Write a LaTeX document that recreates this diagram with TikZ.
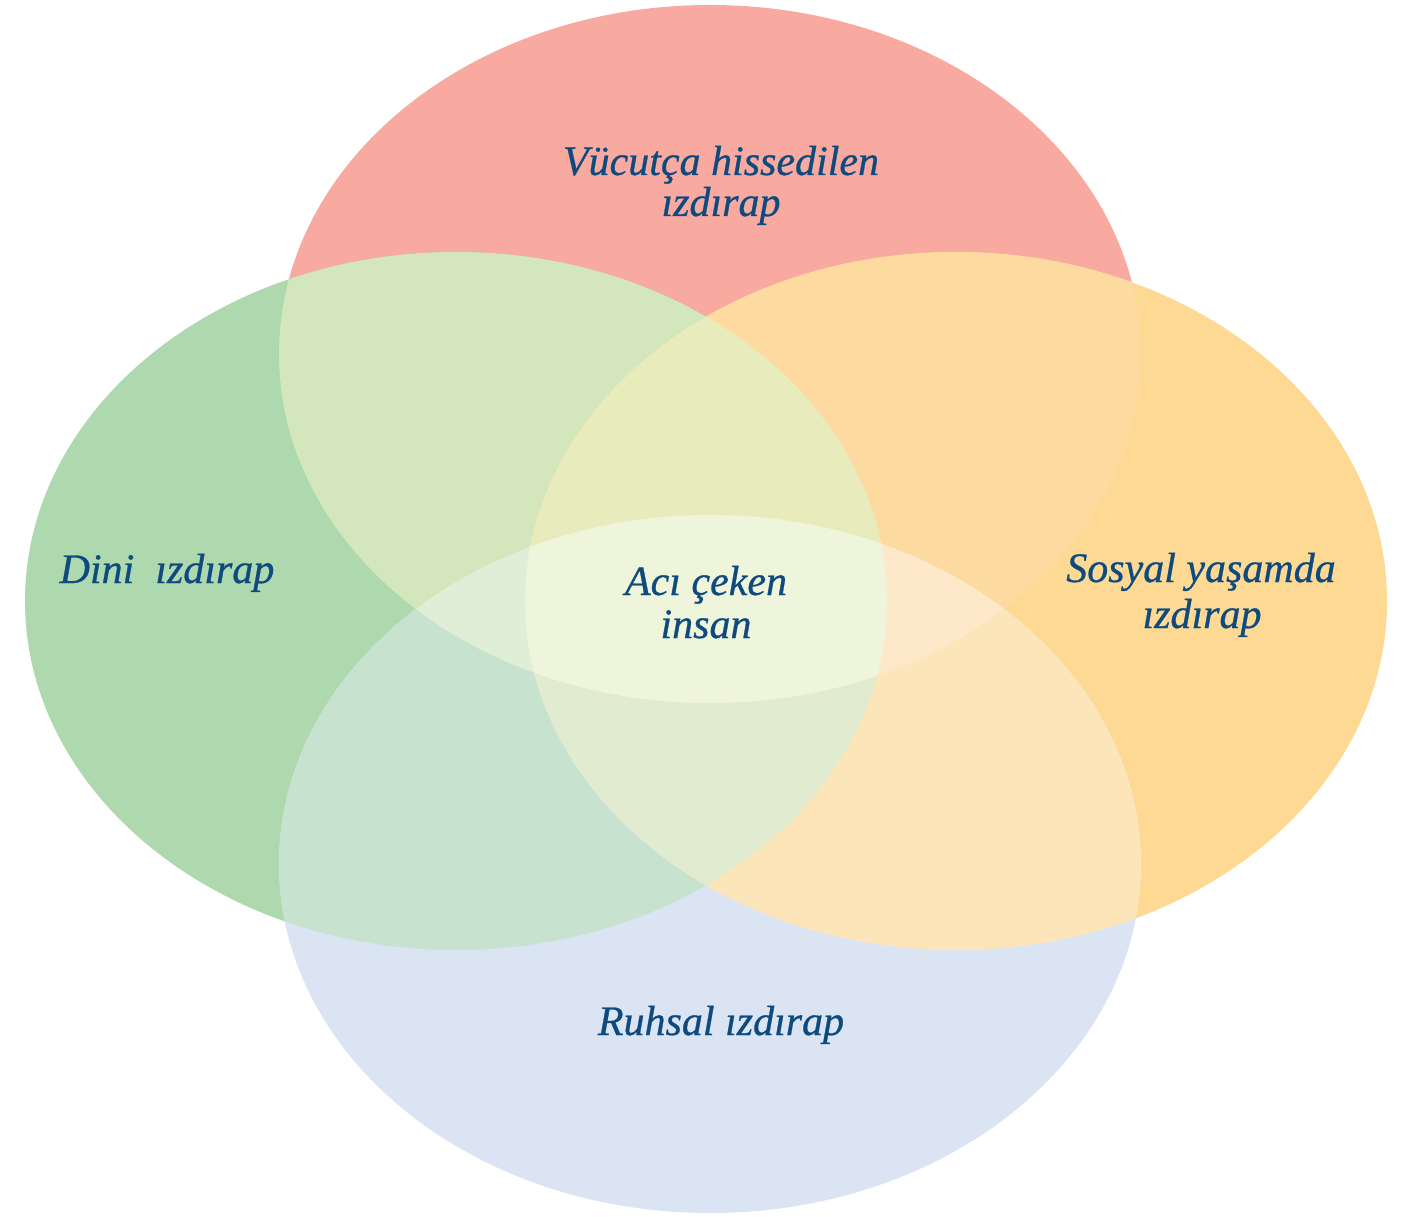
\documentclass[tikz,border=0pt]{standalone}
\usepackage{fontspec}
\setmainfont{Liberation Serif}[ItalicFeatures={FakeBold=0.6}]
\definecolor{cR}{HTML}{F8A9A0}
\definecolor{cG}{HTML}{AED8AE}
\definecolor{cO}{HTML}{FDD994}
\definecolor{cB}{HTML}{DAE4F2}
\definecolor{cRG}{HTML}{D3E6BC}
\definecolor{cRO}{HTML}{FDDBA0}
\definecolor{cGB}{HTML}{C7E3CF}
\definecolor{cOB}{HTML}{FDE5BA}
\definecolor{cRGO}{HTML}{E8ECBC}
\definecolor{cRGB}{HTML}{E0EED8}
\definecolor{cGOB}{HTML}{E0EBD0}
\definecolor{cROB}{HTML}{FDE8C9}
\definecolor{cAll}{HTML}{EFF5DA}
\definecolor{txt}{HTML}{0E4A7E}
\tikzset{
  eR/.style={insert path={(710,354) ellipse [x radius=431pt, y radius=349pt]}},
  eG/.style={insert path={(456,601) ellipse [x radius=431pt, y radius=349pt]}},
  eO/.style={insert path={(956,601) ellipse [x radius=431pt, y radius=349pt]}},
  eB/.style={insert path={(710,864) ellipse [x radius=431pt, y radius=349pt]}},
  lbl/.style={font=\fontsize{42}{46}\selectfont\itshape, text=txt, anchor=base, inner sep=0pt}
}
\begin{document}
\begin{tikzpicture}[x=1pt,y=-1pt]
\useasboundingbox (0,0) rectangle (1411,1217);
\fill[white] (0,0) rectangle (1411,1217);
% single sets
\fill[cR,eR];
\fill[cG,eG];
\fill[cO,eO];
\fill[cB,eB];
% pairs
\begin{scope}
  \clip[eR];
  \fill[cRG,eG];
  \fill[cRO,eO];
\end{scope}
\begin{scope}
  \clip[eB];
  \fill[cGB,eG];
  \fill[cOB,eO];
\end{scope}
% triples
\begin{scope}
  \clip[eR];
  \clip[eG];
  \fill[cRGO,eO];
  \fill[cRGB,eB];
\end{scope}
\begin{scope}
  \clip[eB];
  \clip[eO];
  \fill[cGOB,eG];
  \fill[cROB,eR];
\end{scope}
% all four
\begin{scope}
  \clip[eR];
  \clip[eB];
  \clip[eG];
  \fill[cAll,eO];
\end{scope}
% labels
\node[lbl] (v1) at (721,175) {Vücutça hissedilen};
\node[lbl] (v2) at (721,216) {ızdırap};
\node[lbl] (d1) at (167,583) {Dini\ \ ızdırap};
\node[lbl] (s1) at (1201,582) {Sosyal yaşamda};
\node[lbl] (s2) at (1202,628) {ızdırap};
\node[lbl] (r1) at (721,1035) {Ruhsal ızdırap};
\node[lbl] (a1) at (706,595) {Acı çeken};
\node[lbl] (a2) at (706,638) {insan};
\end{tikzpicture}
\end{document}
